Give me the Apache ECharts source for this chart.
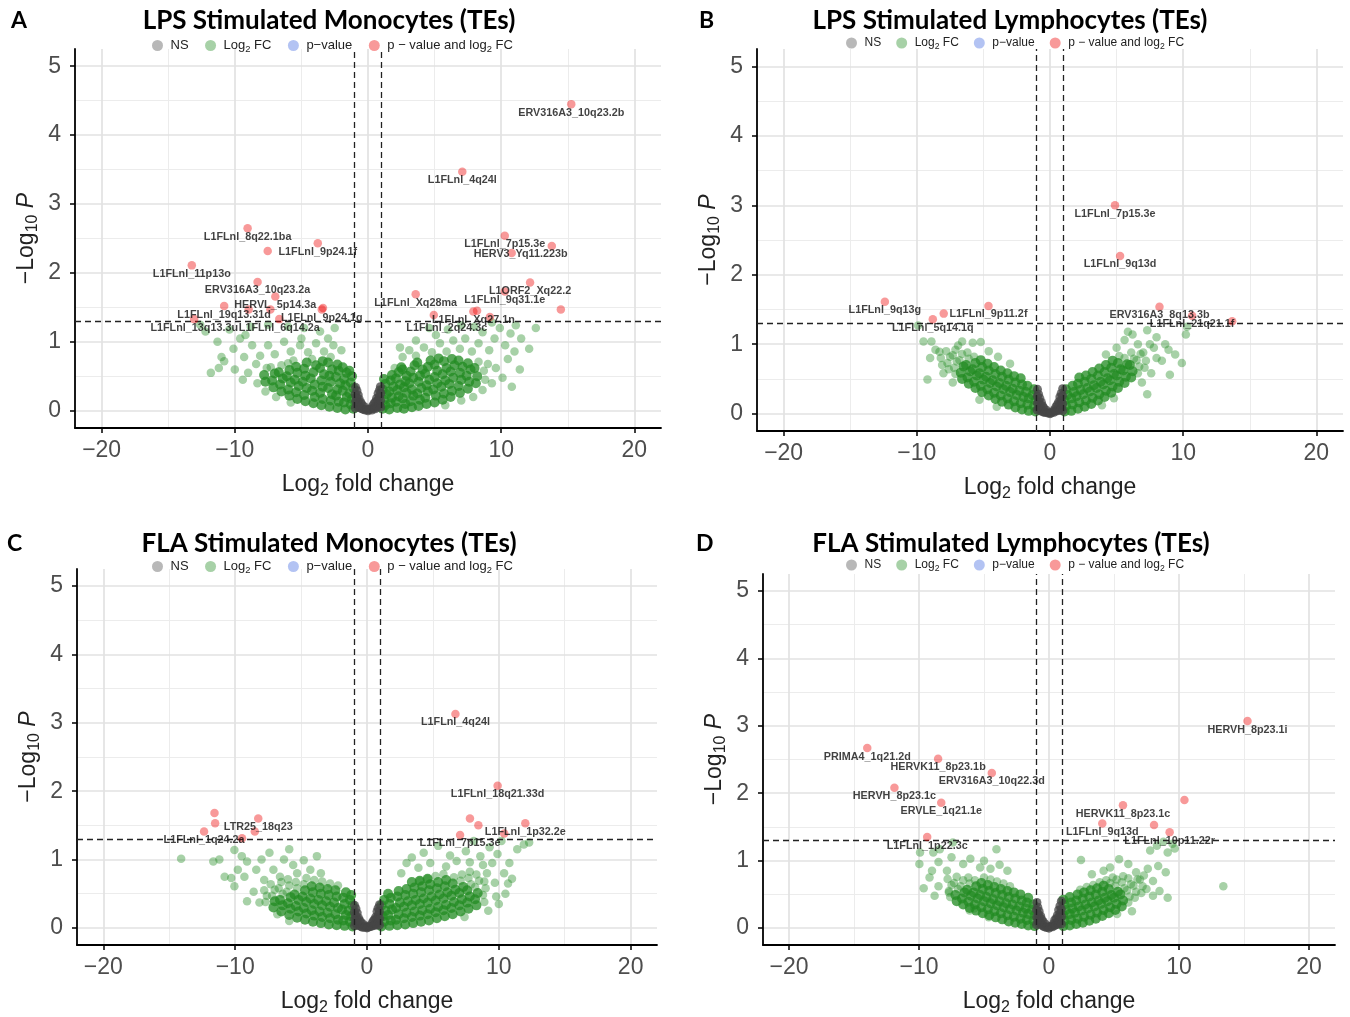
<!DOCTYPE html>
<html><head><meta charset="utf-8">
<script src="https://cdn.jsdelivr.net/npm/echarts/dist/echarts.min.js"></script>
<style>html,body{margin:0;padding:0;background:#fff}#c{width:1350px;height:1017px}</style>
</head><body><div id="c"></div>
<script>
// ---------------- DATA ----------------
const panelTitles = ['LPS Stimulated Monocytes (TEs)','LPS Stimulated Lymphocytes (TEs)','FLA Stimulated Monocytes (TEs)','FLA Stimulated Lymphocytes (TEs)'];
const panelLetters = ['A','B','C','D'];
const seriesNames = ['NS','Log2 FC','p-value','p-value and log2 FC'];
const xTicks = [-20,-10,0,10,20];
const yTicks = [0,1,2,3,4,5];
const xMinor = [-15,-5,5,15];
const yMinor = [0.5,1.5,2.5,3.5,4.5];
const fcCutoffs = [-1,1];
const pCutoff = 1.30103;

const nsA = [[-0.95,0.04],[-0.92,0.14],[-0.96,0.24],[-0.93,0.34],[-0.84,0.09],[-0.86,0.19],[-0.83,0.29],[-0.74,0.05],[-0.76,0.14],[-0.73,0.23],[-0.64,0.07],[-0.66,0.17],[-0.55,0.04],[-0.54,0.12],[-0.45,0.03],[-0.44,0.09],[-0.35,0.02],[-0.28,0.06],[-0.2,0.01],[-0.1,0.02],[0.0,0.0],[0.1,0.02],[0.2,0.03],[0.29,0.01],[0.34,0.07],[0.44,0.04],[0.46,0.11],[0.55,0.03],[0.56,0.13],[0.65,0.07],[0.64,0.18],[0.75,0.05],[0.74,0.15],[0.76,0.25],[0.85,0.09],[0.84,0.2],[0.86,0.3],[0.95,0.05],[0.94,0.15],[0.96,0.25],[0.93,0.35]];
const nsB = [[-0.96,0.05],[-0.93,0.15],[-0.95,0.25],[-0.94,0.35],[-0.85,0.08],[-0.84,0.18],[-0.86,0.28],[-0.75,0.04],[-0.74,0.13],[-0.76,0.22],[-0.65,0.06],[-0.64,0.16],[-0.56,0.03],[-0.55,0.11],[-0.46,0.02],[-0.45,0.08],[-0.36,0.02],[-0.27,0.05],[-0.19,0.01],[-0.09,0.01],[0.01,0.0],[0.11,0.01],[0.21,0.03],[0.3,0.02],[0.35,0.06],[0.45,0.04],[0.45,0.1],[0.56,0.04],[0.55,0.13],[0.66,0.06],[0.65,0.17],[0.76,0.05],[0.75,0.14],[0.74,0.24],[0.86,0.08],[0.85,0.19],[0.84,0.29],[0.96,0.04],[0.95,0.14],[0.94,0.26],[0.95,0.36]];
const nsC = [[-0.95,0.03],[-0.93,0.13],[-0.96,0.23],[-0.94,0.33],[-0.85,0.07],[-0.86,0.18],[-0.84,0.28],[-0.75,0.04],[-0.76,0.13],[-0.74,0.22],[-0.65,0.06],[-0.65,0.15],[-0.55,0.03],[-0.56,0.11],[-0.45,0.02],[-0.44,0.08],[-0.34,0.01],[-0.27,0.05],[-0.18,0.01],[-0.09,0.02],[0.0,0.0],[0.09,0.01],[0.19,0.02],[0.28,0.02],[0.35,0.06],[0.45,0.03],[0.46,0.1],[0.55,0.04],[0.56,0.12],[0.65,0.06],[0.66,0.16],[0.75,0.04],[0.74,0.14],[0.76,0.24],[0.85,0.08],[0.86,0.19],[0.84,0.29],[0.95,0.04],[0.96,0.14],[0.94,0.24],[0.95,0.34]];
const nsD = [[-0.95,0.05],[-0.94,0.16],[-0.96,0.27],[-0.93,0.38],[-0.85,0.1],[-0.84,0.21],[-0.86,0.31],[-0.75,0.06],[-0.74,0.16],[-0.76,0.25],[-0.65,0.08],[-0.64,0.18],[-0.55,0.05],[-0.56,0.13],[-0.45,0.03],[-0.46,0.1],[-0.35,0.02],[-0.27,0.06],[-0.19,0.01],[-0.09,0.02],[0.0,0.0],[0.1,0.02],[0.19,0.03],[0.28,0.02],[0.36,0.07],[0.45,0.04],[0.44,0.12],[0.55,0.05],[0.56,0.14],[0.65,0.08],[0.64,0.19],[0.75,0.06],[0.76,0.17],[0.74,0.27],[0.85,0.1],[0.86,0.22],[0.84,0.33],[0.95,0.06],[0.96,0.17],[0.94,0.28],[0.95,0.4]];

// dense (overlapping) bulk of the Log2 FC points
const greenCoreA = [
[1.1,0.03],[1.3,0.08],[1.2,0.16],[1.4,0.24],[1.1,0.31],[1.3,0.39],[1.2,0.46],
[1.6,0.02],[1.7,0.11],[1.8,0.19],[1.6,0.28],[1.9,0.35],[1.7,0.44],[1.8,0.52],
[2.2,0.04],[2.1,0.13],[2.3,0.21],[2.2,0.30],[2.4,0.38],[2.1,0.47],[2.3,0.56],[2.5,0.63],
[2.7,0.03],[2.8,0.10],[2.6,0.18],[2.9,0.26],[2.7,0.34],[2.8,0.43],[2.9,0.51],[2.6,0.60],
[3.3,0.05],[3.2,0.14],[3.4,0.22],[3.3,0.31],[3.1,0.40],[3.4,0.48],[3.2,0.57],[3.5,0.66],
[3.8,0.07],[3.9,0.16],[3.7,0.25],[4.0,0.33],[3.8,0.42],[3.9,0.51],[4.1,0.60],[3.7,0.70],
[4.4,0.10],[4.3,0.19],[4.5,0.28],[4.4,0.37],[4.6,0.45],[4.3,0.54],[4.5,0.64],[4.7,0.73],
[5.0,0.12],[5.1,0.22],[4.9,0.31],[5.2,0.40],[5.0,0.49],[5.2,0.58],[5.0,0.67],[5.3,0.76],
[5.6,0.16],[5.7,0.25],[5.5,0.35],[5.8,0.44],[5.6,0.53],[5.9,0.62],[5.7,0.72],
[6.2,0.20],[6.3,0.29],[6.1,0.39],[6.4,0.48],[6.2,0.57],[6.5,0.66],[6.3,0.75],
[6.9,0.26],[6.8,0.36],[7.0,0.45],[6.9,0.55],[7.1,0.64],[6.8,0.73],
[7.5,0.32],[7.6,0.42],[7.4,0.51],[7.7,0.60],[7.5,0.69],
[8.1,0.40],[8.2,0.50],[8.0,0.62],
[-1.1,0.03],[-1.3,0.09],[-1.2,0.17],[-1.4,0.25],[-1.1,0.33],[-1.3,0.41],[-1.2,0.50],[-1.4,0.58],
[-1.7,0.02],[-1.8,0.12],[-1.6,0.20],[-1.9,0.29],[-1.7,0.37],[-1.8,0.46],[-1.6,0.55],[-1.9,0.63],
[-2.3,0.04],[-2.2,0.13],[-2.4,0.22],[-2.3,0.31],[-2.1,0.40],[-2.4,0.49],[-2.2,0.58],[-2.3,0.67],
[-2.9,0.06],[-2.8,0.15],[-2.7,0.24],[-3.0,0.33],[-2.8,0.42],[-2.9,0.51],[-2.7,0.60],[-3.0,0.70],
[-3.5,0.08],[-3.4,0.17],[-3.6,0.26],[-3.4,0.35],[-3.5,0.44],[-3.3,0.53],[-3.6,0.62],[-3.4,0.72],
[-4.1,0.11],[-4.0,0.20],[-4.2,0.29],[-4.0,0.38],[-4.3,0.47],[-4.1,0.56],[-3.9,0.66],
[-4.7,0.14],[-4.8,0.23],[-4.6,0.33],[-4.9,0.42],[-4.7,0.51],[-4.8,0.61],[-4.6,0.70],
[-5.3,0.17],[-5.4,0.27],[-5.2,0.36],[-5.5,0.45],[-5.3,0.55],[-5.4,0.64],
[-5.9,0.22],[-6.0,0.31],[-5.8,0.41],[-6.1,0.50],[-5.9,0.59],
[-6.5,0.28],[-6.6,0.38],[-6.4,0.47],[-6.7,0.56],
[-7.1,0.34],[-7.2,0.44],[-7.0,0.54],
[-7.7,0.42],[-7.8,0.52]
];
// lighter, spread-out Log2 FC points
const greenEdgeA = [
[8.3,0.71],[8.8,0.45],[8.7,0.58],[9.0,0.68],[-4.2,0.75],[-5.6,0.73],[-6.0,0.69],[-6.5,0.66],[-7.3,0.63],[-7.6,0.62],[-2.8,0.78],
[2.0,0.62],[2.6,0.78],[3.1,0.88],[3.6,0.80],[4.2,0.92],[4.8,0.85],[5.4,0.98],[5.9,0.86],[6.4,1.02],[6.0,1.18],[6.9,0.90],[7.3,1.05],[7.8,0.86],[8.3,0.98],[8.6,1.14],[9.1,0.88],[9.5,1.05],[9.9,1.20],[10.3,0.95],[10.7,1.12],[11.1,1.24],[11.5,1.05],[9.6,0.62],[10.1,0.48],[10.5,0.75],[11.0,0.86],[12.1,0.90],[12.6,1.20],[4.6,1.20],[5.1,1.10],[7.0,1.24],[8.0,1.22],[9.3,1.28],[3.6,1.02],[2.4,0.92],[11.4,0.60],[9.3,0.40],[8.6,0.30],[7.9,0.20],[7.0,0.15],[5.8,0.08],[10.8,0.35],
[-2.0,0.88],[-2.6,0.95],[-3.3,0.86],[-3.9,0.98],[-4.5,0.85],[-5.1,0.95],[-5.8,0.86],[-6.3,1.00],[-7.0,0.82],[-7.5,0.95],[-8.1,0.80],[-8.4,0.68],[-8.7,0.95],[-9.0,0.55],[-9.3,0.78],[-9.6,1.05],[-10.1,0.90],[-10.4,1.18],[-10.8,0.72],[-11.0,0.78],[-11.3,1.00],[-11.8,0.55],[-12.2,1.15],[-6.0,1.22],[-4.8,1.20],[-3.6,1.15],[-2.5,1.20],[-7.5,1.25],[-8.8,1.22],[-9.2,1.10],[-10.0,0.60],[-8.3,0.40],[-7.7,0.28],[-6.9,0.20],[-5.8,0.12],[-9.4,0.45],[-11.2,0.62],[-12.6,1.25],[-5.0,1.05],[-3.0,1.05]
];
const greenCoreB = [
[1.1,0.03],[1.2,0.11],[1.1,0.19],[1.3,0.27],[1.2,0.35],
[1.6,0.04],[1.7,0.13],[1.6,0.22],[1.8,0.31],[1.7,0.40],
[2.1,0.07],[2.2,0.16],[2.0,0.25],[2.3,0.34],[2.1,0.43],[2.2,0.52],
[2.6,0.10],[2.7,0.19],[2.5,0.28],[2.8,0.37],[2.6,0.46],[2.7,0.55],
[3.1,0.14],[3.2,0.23],[3.0,0.32],[3.3,0.41],[3.1,0.50],[3.2,0.60],
[3.6,0.19],[3.7,0.28],[3.5,0.37],[3.8,0.46],[3.6,0.55],[3.7,0.65],
[4.1,0.24],[4.2,0.33],[4.0,0.42],[4.3,0.51],[4.1,0.60],[4.2,0.70],
[4.6,0.30],[4.7,0.39],[4.5,0.48],[4.8,0.57],[4.6,0.66],[4.7,0.76],
[5.1,0.37],[5.2,0.46],[5.0,0.55],[5.3,0.64],[5.1,0.73],
[5.6,0.44],[5.7,0.53],[5.5,0.62],[5.8,0.71],
[6.1,0.52],[6.2,0.61],[6.0,0.70],
[-1.1,0.03],[-1.2,0.11],[-1.1,0.19],[-1.3,0.27],[-1.2,0.35],
[-1.6,0.04],[-1.7,0.13],[-1.6,0.22],[-1.8,0.31],[-1.7,0.40],
[-2.1,0.06],[-2.2,0.15],[-2.0,0.24],[-2.3,0.33],[-2.1,0.42],[-2.2,0.51],
[-2.6,0.09],[-2.7,0.18],[-2.5,0.27],[-2.8,0.36],[-2.6,0.45],[-2.7,0.54],
[-3.1,0.13],[-3.2,0.22],[-3.0,0.31],[-3.3,0.40],[-3.1,0.49],[-3.2,0.58],
[-3.6,0.17],[-3.7,0.26],[-3.5,0.35],[-3.8,0.44],[-3.6,0.53],[-3.7,0.62],
[-4.1,0.21],[-4.2,0.30],[-4.0,0.39],[-4.3,0.48],[-4.1,0.57],[-4.2,0.67],
[-4.6,0.26],[-4.7,0.35],[-4.5,0.44],[-4.8,0.53],[-4.6,0.62],[-4.7,0.72],
[-5.1,0.31],[-5.2,0.40],[-5.0,0.49],[-5.3,0.58],[-5.1,0.67],[-5.2,0.77],
[-5.6,0.37],[-5.7,0.46],[-5.5,0.55],[-5.8,0.64],[-5.6,0.73],
[-6.1,0.43],[-6.2,0.52],[-6.0,0.61],[-6.3,0.70],
[-6.6,0.50],[-6.7,0.59],[-6.5,0.68]
];
const greenEdgeB = [
[5.2,0.83],[5.6,0.80],[6.3,0.79],[6.1,0.88],[6.6,0.58],[6.7,0.68],[6.5,0.77],[6.8,0.86],[7.1,0.66],[7.2,0.76],[7.0,0.88],
[5.6,1.06],[6.2,1.14],[5.85,1.18],[7.3,1.20],[8.0,1.10],[8.65,1.00],[7.5,1.00],[10.2,1.14],[9.9,0.73],[9.0,0.56],[8.4,0.76],[7.3,0.28],[8.0,0.80],[7.8,0.95],[8.9,0.92],[4.8,0.22],[3.9,0.12],[6.6,1.00],[7.6,0.58],[6.9,0.45],[10.3,1.25],[4.2,0.85],[5.0,0.95],[9.4,0.85],
[-5.7,0.82],[-6.1,0.79],[-6.2,0.88],[-6.8,0.77],[-6.6,0.86],[-7.1,0.57],[-7.2,0.66],[-7.0,0.75],[-7.3,0.84],[-7.1,0.92],[-7.6,0.64],[-7.7,0.73],[-7.5,0.82],[-7.8,0.90],[-8.1,0.70],[-8.2,0.80],[-8.3,0.89],
[-9.5,1.04],[-8.9,1.04],[-9.2,0.49],[-6.6,1.04],[-5.8,1.02],[-5.2,1.03],[-9.9,1.27],[-8.6,0.92],[-4.6,0.90],[-3.9,0.82],[-5.3,0.20],[-4.0,0.10],[-7.3,0.45],[-8.0,0.58],[-6.9,0.98],[-3.0,0.72],[-9.0,0.80]
];
const greenCoreC = [
[1.1,0.02],[1.3,0.09],[1.2,0.17],[1.4,0.25],[1.1,0.33],[1.3,0.41],
[1.7,0.03],[1.8,0.11],[1.6,0.19],[1.9,0.27],[1.7,0.35],[1.8,0.44],[1.6,0.50],
[2.3,0.04],[2.2,0.12],[2.4,0.20],[2.2,0.29],[2.5,0.37],[2.3,0.46],[2.4,0.54],
[2.9,0.05],[2.8,0.14],[3.0,0.22],[2.8,0.31],[3.1,0.39],[2.9,0.48],[3.0,0.57],
[3.5,0.07],[3.4,0.16],[3.6,0.24],[3.4,0.33],[3.7,0.41],[3.5,0.50],[3.6,0.59],[3.4,0.67],
[4.1,0.09],[4.0,0.18],[4.2,0.26],[4.0,0.35],[4.3,0.43],[4.1,0.52],[4.2,0.61],[4.0,0.69],
[4.7,0.11],[4.6,0.20],[4.8,0.28],[4.6,0.37],[4.9,0.46],[4.7,0.55],[4.8,0.64],[4.6,0.72],
[5.3,0.14],[5.2,0.23],[5.4,0.31],[5.2,0.40],[5.5,0.49],[5.3,0.58],[5.4,0.67],
[5.9,0.17],[5.8,0.26],[6.0,0.34],[5.8,0.43],[6.1,0.52],[5.9,0.61],[6.0,0.70],
[6.5,0.20],[6.4,0.29],[6.6,0.38],[6.4,0.47],[6.7,0.56],[6.5,0.65],
[7.1,0.24],[7.0,0.33],[7.2,0.42],[7.0,0.51],[7.3,0.60],
[7.7,0.28],[7.6,0.37],[7.8,0.46],[7.6,0.55],
[8.3,0.33],[8.2,0.42],[8.4,0.51],
[-1.1,0.02],[-1.3,0.09],[-1.2,0.17],[-1.4,0.25],[-1.1,0.33],[-1.3,0.41],[-1.2,0.48],
[-1.7,0.03],[-1.8,0.11],[-1.6,0.19],[-1.9,0.27],[-1.7,0.35],[-1.8,0.44],[-1.6,0.52],
[-2.3,0.04],[-2.2,0.12],[-2.4,0.20],[-2.2,0.29],[-2.5,0.37],[-2.3,0.46],[-2.4,0.55],
[-2.9,0.05],[-2.8,0.14],[-3.0,0.22],[-2.8,0.31],[-3.1,0.39],[-2.9,0.48],[-3.0,0.57],
[-3.5,0.07],[-3.4,0.16],[-3.6,0.24],[-3.4,0.33],[-3.7,0.41],[-3.5,0.50],[-3.6,0.59],
[-4.1,0.09],[-4.0,0.18],[-4.2,0.26],[-4.0,0.35],[-4.3,0.43],[-4.1,0.52],[-4.2,0.61],
[-4.7,0.12],[-4.6,0.21],[-4.8,0.29],[-4.6,0.38],[-4.9,0.46],[-4.7,0.55],
[-5.3,0.15],[-5.2,0.24],[-5.4,0.32],[-5.2,0.41],[-5.5,0.49],
[-5.9,0.19],[-5.8,0.28],[-6.0,0.36],[-5.8,0.45],
[-6.5,0.24],[-6.4,0.33],[-6.6,0.41],
[-7.1,0.30],[-7.0,0.39]
];
const greenEdgeC = [
[4.0,0.69],[4.6,0.72],[5.2,0.76],[5.8,0.79],[6.6,0.74],[7.1,0.69],[7.2,0.78],[7.9,0.64],[7.7,0.73],[7.8,0.82],[8.2,0.60],[8.5,0.69],[8.3,0.78],[8.9,0.38],[8.8,0.48],[9.0,0.58],[8.9,0.68],[9.1,0.80],
[11.9,1.22],[10.2,1.27],[9.9,1.08],[10.4,0.80],[10.7,0.65],[10.5,0.50],[9.8,0.46],[11.0,0.72],[10.8,0.95],[9.5,0.95],[9.3,1.18],[8.1,1.27],[8.6,1.05],[7.5,1.12],[6.8,0.98],[6.3,1.06],[5.4,1.20],[4.8,0.95],[3.4,1.03],[2.6,0.80],[3.9,0.88],[6.0,0.90],[7.8,0.96],[9.7,0.66],[11.4,1.15],[12.3,1.25],[4.3,1.10],[3.0,0.95],[8.8,0.92],[10.0,0.35],[9.2,0.25],[7.4,0.16],
[-2.2,0.62],[-2.8,0.65],[-3.4,0.68],[-4.0,0.70],[-4.8,0.64],[-4.6,0.73],[-5.3,0.58],[-5.4,0.67],[-5.9,0.62],[-6.0,0.71],[-6.1,0.53],[-6.4,0.50],[-6.7,0.58],[-6.5,0.67],[-7.2,0.47],[-7.0,0.56],[-7.3,0.64],[-7.7,0.38],[-7.6,0.47],[-7.8,0.55],
[-14.1,1.01],[-11.66,0.97],[-11.2,1.00],[-10.06,1.14],[-10.8,0.75],[-10.06,0.61],[-9.5,1.05],[-9.1,0.97],[-9.3,0.75],[-8.6,0.53],[-9.1,0.39],[-8.16,0.37],[-7.4,1.10],[-8.0,1.00],[-7.1,0.85],[-6.6,0.75],[-5.6,0.92],[-4.8,0.99],[-5.3,0.80],[-4.3,0.85],[-3.5,0.80],[-6.3,1.00],[-8.4,0.85],[-7.8,0.70],[-9.8,0.85],[-10.3,0.73],[-3.8,1.05],[-5.9,1.15],[-6.8,0.20],[-5.9,0.10]
];
const greenCoreD = [
[1.1,0.03],[1.2,0.11],[1.1,0.19],[1.3,0.27],[1.2,0.35],[1.1,0.42],
[1.6,0.04],[1.7,0.12],[1.6,0.21],[1.8,0.29],[1.7,0.38],[1.6,0.46],
[2.1,0.06],[2.2,0.14],[2.0,0.23],[2.3,0.32],[2.1,0.41],[2.2,0.50],
[2.6,0.08],[2.7,0.17],[2.5,0.26],[2.8,0.35],[2.6,0.44],[2.7,0.53],
[3.1,0.11],[3.2,0.20],[3.0,0.29],[3.3,0.38],[3.1,0.47],[3.2,0.56],
[3.6,0.14],[3.7,0.23],[3.5,0.32],[3.8,0.41],[3.6,0.50],[3.7,0.59],
[4.1,0.18],[4.2,0.27],[4.0,0.36],[4.3,0.45],[4.1,0.54],[4.2,0.63],
[4.6,0.22],[4.7,0.31],[4.5,0.40],[4.8,0.49],[4.6,0.58],
[5.1,0.27],[5.2,0.36],[5.0,0.45],[5.3,0.54],
[5.6,0.32],[5.7,0.41],[5.5,0.50],
[-1.1,0.03],[-1.2,0.11],[-1.1,0.19],[-1.3,0.27],[-1.2,0.35],
[-1.6,0.04],[-1.7,0.12],[-1.6,0.21],[-1.8,0.29],[-1.7,0.38],[-1.6,0.45],
[-2.1,0.06],[-2.2,0.14],[-2.0,0.23],[-2.3,0.32],[-2.1,0.41],[-2.2,0.50],
[-2.6,0.08],[-2.7,0.17],[-2.5,0.26],[-2.8,0.35],[-2.6,0.44],[-2.7,0.53],
[-3.1,0.10],[-3.2,0.19],[-3.0,0.28],[-3.3,0.37],[-3.1,0.46],[-3.2,0.55],
[-3.6,0.13],[-3.7,0.22],[-3.5,0.31],[-3.8,0.40],[-3.6,0.49],[-3.7,0.58],
[-4.1,0.16],[-4.2,0.25],[-4.0,0.34],[-4.3,0.43],[-4.1,0.52],[-4.2,0.61],
[-4.6,0.19],[-4.7,0.28],[-4.5,0.37],[-4.8,0.46],[-4.6,0.55],[-4.7,0.64],
[-5.1,0.22],[-5.2,0.31],[-5.0,0.40],[-5.3,0.49],[-5.1,0.58],[-5.2,0.67],
[-5.6,0.26],[-5.7,0.35],[-5.5,0.44],[-5.8,0.53],[-5.6,0.62],
[-6.1,0.30],[-6.2,0.39],[-6.0,0.48],[-6.3,0.57],
[-6.6,0.35],[-6.7,0.44],[-6.5,0.53],
[-7.1,0.40],[-7.2,0.49]
];
const greenEdgeD = [
[2.4,0.57],[2.9,0.61],[3.4,0.64],[3.9,0.68],[4.4,0.71],[4.7,0.67],[4.9,0.75],[5.1,0.63],[5.2,0.72],[5.8,0.59],[5.6,0.68],[5.7,0.77],[6.1,0.38],[6.2,0.47],[6.0,0.56],[6.3,0.65],[6.1,0.74],[6.6,0.45],[6.7,0.54],[6.5,0.63],[6.8,0.72],[7.1,0.52],[7.2,0.62],[7.0,0.72],
[2.46,1.01],[5.39,1.02],[4.7,0.90],[6.7,0.83],[8.98,0.83],[8.0,0.48],[9.13,0.45],[7.78,1.15],[8.3,1.22],[9.13,1.12],[9.67,1.18],[13.41,0.62],[6.38,0.25],[5.24,0.21],[7.5,0.58],[8.5,0.55],[8.4,0.92],[7.6,0.88],[6.1,0.95],[7.3,0.78],[8.0,0.70],[3.3,0.80],[4.2,0.85],[9.5,1.25],[8.8,1.28],
[-3.0,0.62],[-3.5,0.66],[-4.0,0.69],[-4.5,0.72],[-5.0,0.75],[-5.7,0.71],[-6.1,0.66],[-6.2,0.75],[-6.8,0.62],[-6.6,0.71],[-7.0,0.58],[-7.3,0.67],[-7.1,0.76],[-7.6,0.46],[-7.7,0.55],[-7.5,0.64],[-7.8,0.73],
[-9.97,0.95],[-9.64,0.59],[-9.19,0.75],[-8.9,1.12],[-8.4,1.17],[-7.4,1.27],[-8.5,0.98],[-7.5,1.05],[-6.6,0.95],[-5.75,0.29],[-4.64,0.16],[-3.8,0.94],[-4.04,1.17],[-9.92,1.12],[-8.5,0.62],[-7.85,0.85],[-6.05,1.03],[-3.2,0.85],[-4.5,0.88],[-5.3,0.90],[-7.7,0.53],[-6.1,0.26],[-8.8,0.48],[-9.0,0.85],[-5.0,1.00]
];

const redA = [
[15.26,4.45,'ERV316A3_10q23.2b'],[7.08,3.47,'L1FLnl_4q24l'],[-9.04,2.65,'L1FLnl_8q22.1ba'],[-3.77,2.43,'L1FLnl_9p24.1f'],
[-7.53,2.32,''],[-13.23,2.11,'L1FLnl_11p13o'],[-8.29,1.87,'ERV316A3_10q23.2a'],[-6.96,1.66,'HERVL_5p14.3a'],
[-10.8,1.52,'L1FLnl_19q13.31d'],[-7.33,1.47,''],[-3.47,1.47,'L1FLnl_9p24.1g'],[-3.38,1.49,''],[-8.96,1.47,''],
[-6.66,1.33,'L1FLnl_6q14.2a'],[-13.05,1.33,'L1FLnl_13q13.3u'],[10.27,2.54,'L1FLnl_7p15.3e'],[13.8,2.39,''],
[10.79,2.29,'HERV3_Yq11.223b'],[12.17,1.86,'L1ORF2_Xq22.2'],[10.27,1.73,'L1FLnl_9q31.1e'],[14.48,1.47,''],
[7.91,1.44,'L1FLnl_Xq27.1n'],[8.19,1.45,''],[9.15,1.36,''],[3.58,1.69,'L1FLnl_Xq28ma'],[4.94,1.39,'L1FLnl_2q24.3c']
];
const redB = [
[4.88,3.0,'L1FLnl_7p15.3e'],[5.26,2.27,'L1FLnl_9q13d'],[-12.4,1.61,'L1FLnl_9q13g'],[-4.62,1.55,'L1FLnl_9p11.2f'],
[-7.98,1.44,''],[-8.8,1.36,'L1FLnl_5q14.1q'],[8.22,1.54,'ERV316A3_8q13.3b'],[10.67,1.41,'L1FLnl_21q21.1f'],[13.68,1.33,'']
];
const redC = [
[6.71,3.13,'L1FLnl_4q24l'],[9.91,2.08,'L1FLnl_18q21.33d'],[7.81,1.60,''],[8.45,1.50,''],[12.01,1.53,'L1FLnl_1p32.2e'],
[10.41,1.38,''],[7.06,1.36,'L1FLnl_7p15.3e'],[-11.57,1.68,''],[-11.52,1.53,''],[-12.36,1.41,'L1FLnl_1q24.2a'],
[-8.25,1.60,'LTR25_18q23'],[-8.51,1.41,''],[-9.48,1.31,'']
];
const redD = [
[15.27,3.07,'HERVH_8p23.1i'],[-13.98,2.67,'PRIMA4_1q21.2d'],[-8.53,2.51,'HERVK11_8p23.1b'],[-4.40,2.30,'ERV316A3_10q22.3d'],
[-11.89,2.08,'HERVH_8p23.1c'],[-8.29,1.86,'ERVLE_1q21.1e'],[-9.37,1.35,'L1FLnl_1p22.3c'],[5.69,1.82,'HERVK11_8p23.1c'],
[10.42,1.90,''],[4.10,1.55,'L1FLnl_9q13d'],[8.08,1.53,''],[9.28,1.42,'L1FLnl_10p11.22r']
];

// ---------------- STYLE / LAYOUT ----------------
const FONT = "'Liberation Sans', Arial, sans-serif";
const TFONT = "Lato, 'Noto Sans', sans-serif";
const SYM = 8.5;
const CORE_SYM = 10;
const colors = ['rgba(70,70,70,0.95)','rgba(34,139,34,0.5)','rgba(65,105,225,0.5)','rgba(238,0,0,0.5)'];
const coreGreen = 'rgba(34,139,34,0.95)';
const legendGray = 'rgba(77,77,77,0.5)';
const layout = [
  {grid:{left:75,top:49,width:586,height:379}, titleX:329, titleTop:8, letter:[11,9], legendLeft:152, legendTop:39, lf:13, gap:16.5},
  {grid:{left:757,top:49,width:586,height:382}, titleX:1010, titleTop:8, letter:[699,9], legendLeft:846, legendTop:37, lf:12, gap:15},
  {grid:{left:77,top:569,width:580,height:377}, titleX:329, titleTop:531, letter:[7,532], legendLeft:152, legendTop:560, lf:13, gap:16.5},
  {grid:{left:763,top:574,width:572,height:372}, titleX:1011, titleTop:531, letter:[696,532], legendLeft:846, legendTop:559, lf:12, gap:15}
];
const labelShift = {'L1FLnl_2q24.3c':[13,13],'HERV3_Yq11.223b':[9,1]};
const defaultShift = [0,8.5];
const legendText = {'NS':'{n|NS}','Log2 FC':'{n|Log}{s|2}{n| FC}','p-value':'{n|p−value}','p-value and log2 FC':'{n|p − value and log}{s|2}{n| FC}'};

const panelData = [[nsA,greenCoreA,greenEdgeA,redA],[nsB,greenCoreB,greenEdgeB,redB],[nsC,greenCoreC,greenEdgeC,redC],[nsD,greenCoreD,greenEdgeD,redD]];

const option = {animation:false, backgroundColor:'#fff', grid:[], xAxis:[], yAxis:[], series:[], title:[], legend:[], graphic:[]};
const minus = v => String(v).replace('-','−');

panelData.forEach((pd,i)=>{
  const g = layout[i];
  option.grid.push(Object.assign({containLabel:false}, g.grid));
  option.title.push({text:panelTitles[i], left:g.titleX, top:g.titleTop, textAlign:'center', padding:0,
    textStyle:{fontFamily:TFONT, fontWeight:'bold', fontSize:26, color:'#000'}});
  option.graphic.push({type:'text', left:g.letter[0], top:g.letter[1], style:{text:panelLetters[i], font:'bold 23px '+TFONT, fill:'#000'}});
  option.legend.push({left:g.legendLeft, top:g.legendTop, padding:0, itemWidth:16, itemHeight:11, itemGap:g.gap, icon:'circle',
    data:seriesNames.map((n,k)=>k===0?{name:n, itemStyle:{color:legendGray}}:n), formatter:n=>legendText[n], selectedMode:false,
    textStyle:{fontFamily:FONT, color:'#222', rich:{n:{fontSize:g.lf, fontFamily:FONT, color:'#222', lineHeight:16}, s:{fontSize:g.lf*0.72, fontFamily:FONT, color:'#222', lineHeight:16, verticalAlign:'bottom'}}}});
  option.xAxis.push({gridIndex:i, type:'value', min:-22, max:22,
    name:'{n|Log}{s|2}{n| fold change}', nameLocation:'middle', nameGap:43,
    nameTextStyle:{rich:{n:{fontSize:23, fontFamily:FONT, color:'#222', lineHeight:28}, s:{fontSize:16, fontFamily:FONT, color:'#222', lineHeight:28, verticalAlign:'bottom'}}},
    axisLine:{onZero:false, lineStyle:{color:'#000', width:1.8}},
    axisTick:{customValues:xTicks, length:5, lineStyle:{color:'#000', width:1.5}},
    axisLabel:{customValues:xTicks, fontSize:23, fontFamily:FONT, color:'#4d4d4d', margin:11, formatter:minus},
    splitLine:{show:false}});
  option.yAxis.push({gridIndex:i, type:'value', min:-0.25, max:5.25,
    name:'{n|−Log}{s|10}{n| }{i|P}', nameLocation:'middle', nameGap:34,
    nameTextStyle:{rich:{n:{fontSize:23, fontFamily:FONT, color:'#222', lineHeight:28}, s:{fontSize:16, fontFamily:FONT, color:'#222', lineHeight:28, verticalAlign:'bottom'}, i:{fontSize:23, fontStyle:'italic', fontFamily:FONT, color:'#222', lineHeight:28}}},
    axisLine:{onZero:false, lineStyle:{color:'#000', width:1.8}},
    axisTick:{customValues:yTicks, length:5, lineStyle:{color:'#000', width:1.5}},
    axisLabel:{customValues:yTicks, fontSize:23, fontFamily:FONT, color:'#4d4d4d', margin:14, formatter:minus},
    splitLine:{show:false}});
  const ax = {xAxisIndex:i, yAxisIndex:i};
  // grid lines (kept beneath the points)
  option.series.push(Object.assign({type:'scatter', data:[], silent:true, z:0,
    markLine:{z:0, silent:true, symbol:'none', animation:false, label:{show:false}, emphasis:{disabled:true},
      lineStyle:{color:'#ececec', width:1, type:'solid'},
      data:[...xMinor.map(v=>({xAxis:v})), ...yMinor.map(v=>({yAxis:v}))]}}, ax));
  option.series.push(Object.assign({type:'scatter', data:[], silent:true, z:0,
    markLine:{z:0, silent:true, symbol:'none', animation:false, label:{show:false}, emphasis:{disabled:true},
      lineStyle:{color:'#e2e2e2', width:1.7, type:'solid'},
      data:[...xTicks.map(v=>({xAxis:v})), ...yTicks.map(v=>({yAxis:v}))]}}, ax));
  const [ns, core, edge, red] = pd;
  option.series.push(Object.assign({type:'scatter', name:seriesNames[1], data:edge, symbolSize:SYM, z:2, itemStyle:{color:colors[1]}, silent:true}, ax));
  option.series.push(Object.assign({type:'scatter', name:seriesNames[1], data:core, symbolSize:CORE_SYM, z:2, itemStyle:{color:coreGreen}, silent:true}, ax));
  option.series.push(Object.assign({type:'scatter', name:seriesNames[0], data:ns, symbolSize:SYM+0.5, z:2, itemStyle:{color:colors[0]}, silent:true}, ax));
  option.series.push(Object.assign({type:'scatter', name:seriesNames[2], data:[], symbolSize:SYM, z:2, itemStyle:{color:colors[2]}, silent:true}, ax));
  // cutoffs
  option.series.push(Object.assign({type:'scatter', data:[], silent:true, z:3,
    markLine:{z:3, silent:true, symbol:'none', animation:false, label:{show:false}, emphasis:{disabled:true},
      lineStyle:{color:'#222', width:1.3, type:[6,4]},
      data:[...fcCutoffs.map(v=>({xAxis:v})), {yAxis:pCutoff}]}}, ax));
  option.series.push(Object.assign({type:'scatter', name:seriesNames[3], symbolSize:SYM, z:5, itemStyle:{color:colors[3]}, silent:true,
    label:{show:true, formatter:'{b}', align:'center', verticalAlign:'middle', fontSize:10.8, fontWeight:'bold', fontFamily:FONT, color:'#111'},
    data:red.map(r=>{
      const sh = labelShift[r[2]] || defaultShift;
      return {value:[r[0],r[1]], name:r[2], label:{show:!!r[2], position:[SYM/2+sh[0], SYM/2+sh[1]]}};
    })}, ax));
});

const chart = echarts.init(document.getElementById('c'), null, {renderer:'canvas'});
chart.setOption(option);
</script></body></html>
